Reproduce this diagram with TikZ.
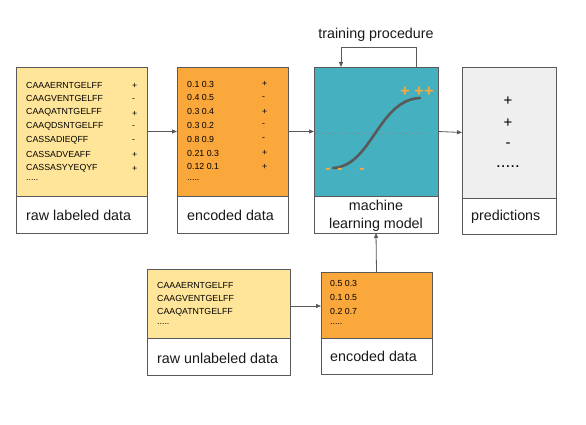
\documentclass[tikz,border=0pt]{standalone}
\usepackage{fontspec}
\setmainfont{Liberation Sans}
\usetikzlibrary{arrows.meta}
\definecolor{lc}{HTML}{595959}
\definecolor{yel}{HTML}{FFE599}
\definecolor{org}{HTML}{FAA73C}
\definecolor{teal}{HTML}{45B0BF}
\definecolor{gry}{HTML}{EFEFEF}
\definecolor{sign}{HTML}{F9A93E}
\begin{document}
\begin{tikzpicture}[x=1pt,y=-1pt,
  box/.style={draw=lc, line width=0.8pt, anchor=north west, inner sep=0pt, outer sep=0pt},
  seq/.style={anchor=west, inner sep=0pt, font=\fontsize{8.8}{10}\selectfont, text=black},
  lbl/.style={anchor=west, inner sep=0pt, font=\fontsize{14.3}{18}\selectfont, text=black!90},
  arr/.style={draw=lc, line width=0.8pt, -{Triangle[length=5pt,width=4pt]}},
  osign/.style={inner sep=0pt, font=\fontsize{16}{18}\selectfont\bfseries, text=sign}]
\useasboundingbox (0,0) rectangle (586,425);

% boxes
\node[box, fill=yel, minimum width=131pt, minimum height=129pt] (rawT) at (16,67) {};
\node[box, fill=white, minimum width=131pt, minimum height=37pt] (rawB) at (16,196) {};
\node[box, fill=org, minimum width=111pt, minimum height=129pt] (encT) at (177,67) {};
\node[box, fill=white, minimum width=111pt, minimum height=37pt] (encB) at (177,196) {};
\node[box, fill=teal, minimum width=124pt, minimum height=129pt] (mlT) at (314,67) {};
\node[box, fill=white, minimum width=124pt, minimum height=37pt] (mlB) at (314,196) {};
\node[box, fill=gry, minimum width=94pt, minimum height=131pt] (prT) at (462,67) {};
\node[box, fill=white, minimum width=94pt, minimum height=36pt] (prB) at (462,198) {};
\node[box, fill=yel, minimum width=143pt, minimum height=69pt] (ulT) at (147,269) {};
\node[box, fill=white, minimum width=143pt, minimum height=37pt] (ulB) at (147,338) {};
\node[box, fill=org, minimum width=111pt, minimum height=66pt] (e2T) at (321,272) {};
\node[box, fill=white, minimum width=111pt, minimum height=36pt] (e2B) at (321,338) {};

% raw labeled data
\foreach \s/\p [count=\i from 0] in {CAAAERNTGELFF/+,CAAGVENTGELFF/-,CAAQATNTGELFF/+,CAAQDSNTGELFF/-,CASSADIEQFF/-,CASSADVEAFF/+,CASSASYYEQYF/+}{
  \node[seq] (rs\i) at (26,{85+13.8*\i}) {\s};
  \node[seq] (rp\i) at (132,{86+13.8*\i}) {\p};
}
\node[seq] (rd) at (26,180) {.....};
\node[lbl] (rawL) at (26,215) {raw labeled data};

% encoded data
\foreach \s/\p [count=\i from 0] in {0.1 0.3/+,0.4 0.5/-,0.3 0.4/+,0.3 0.2/-,0.8 0.9/-,0.21 0.3/+,0.12 0.1/+}{
  \node[seq] (es\i) at (187,{84+13.8*\i}) {\s};
  \node[seq] (ep\i) at (262,{84+13.8*\i}) {\p};
}
\node[seq] (ed) at (187,180) {.....};
\node[lbl] (encL) at (187,215) {encoded data};

% machine learning model
\draw[lc!70, dashed, line width=0.5pt] (315,133) -- (425,133);
\draw[lc, line width=2.6pt, line cap=round] (333,168) .. controls (372,166) and (378,100) .. (420,98);
\node[osign] (op1) at (405,92) {+};
\node[osign] (op2) at (419,92) {+};
\node[osign] (op3) at (429,92) {+};
\node[osign] (om1) at (328,171) {-};
\node[osign] (om2) at (340,171) {-};
\node[osign] (om3) at (362,171) {-};
\node[inner sep=0pt, align=center, font=\fontsize{14.3}{17.5}\selectfont, text=black!90] (mlL) at (376,216) {machine\\learning model};
\node[inner sep=0pt, font=\fontsize{14.3}{18}\selectfont, text=black!90] (trL) at (376,35) {training procedure};

% predictions
\node[inner sep=0pt, font=\fontsize{15}{18}\selectfont] (pp1) at (508,101) {+};
\node[inner sep=0pt, font=\fontsize{15}{18}\selectfont] (pp2) at (508,123) {+};
\node[inner sep=0pt, font=\fontsize{15}{18}\selectfont] (pm1) at (508,145) {-};
\node[inner sep=0pt, font=\fontsize{17}{18}\selectfont] (pd) at (508,167) {.....};
\node[lbl] (prL) at (471,217) {predictions};

% raw unlabeled data
\foreach \s [count=\i from 0] in {CAAAERNTGELFF,CAAGVENTGELFF,CAAQATNTGELFF}{
  \node[seq] (us\i) at (157,{285+13.8*\i}) {\s};
}
\node[seq] (ud) at (157,324) {.....};
\node[lbl] (ulL) at (157,358) {raw unlabeled data};

% encoded data 2
\foreach \s [count=\i from 0] in {0.5 0.3,0.1 0.5,0.2 0.7}{
  \node[seq] (fs\i) at (330,{283+14*\i}) {\s};
}
\node[seq] (fd) at (330,324) {.....};
\node[lbl] (e2L) at (330,356) {encoded data};

% connectors
\draw[arr] (rawT.east) -- (encT.west);
\draw[arr] (encT.east) -- (mlT.west);
\draw[arr] (mlT.east) -- (prT.west);
\draw[arr] (ulT.east |- 0,306) -- (e2T.west |- 0,306);
\draw[arr] (e2T.north) -- (mlB.south);
\draw[arr] ([xshift=40pt]mlT.north) -- ++(0,-20) -| ([xshift=-35pt]mlT.north);
\end{tikzpicture}
\end{document}
